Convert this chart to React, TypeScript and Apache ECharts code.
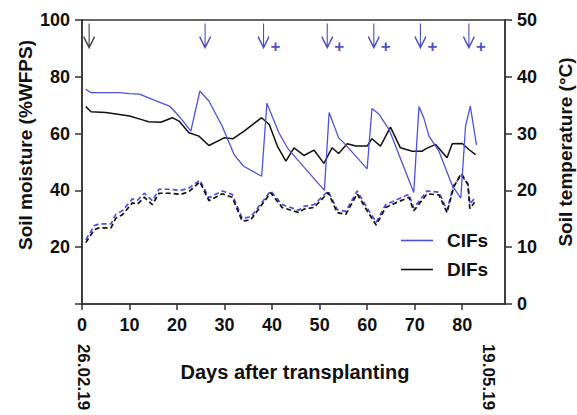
import React, { useEffect, useRef } from "react";
import * as echarts from "echarts";

// ---- Data ----
const cifMoistDays = [0.8, 1.9, 5, 7.8, 10, 12.1, 15.6, 18.4, 20.5, 22.9, 24.8, 26.7, 29.5, 32, 34, 37.8, 38.9, 41.4, 43.2, 45.6, 51, 52, 54, 55, 60, 61, 62.5, 64.6, 69.8, 70.9, 71.9, 73, 75.1, 77.9, 79.7, 80.7, 81.7, 83];
const cifMoist = [75.6, 74.4, 74.4, 74.4, 74.1, 73.9, 71.5, 69.7, 66.0, 60.9, 75.0, 71.5, 62.6, 52.6, 48.5, 45.0, 70.7, 60.4, 55.0, 50.3, 40.0, 67.4, 58.5, 56.9, 47.6, 68.8, 66.8, 61.5, 39.3, 69.5, 65.6, 59.1, 53.8, 41.7, 37.3, 62.6, 69.7, 56.0];

const difMoistDays = [0.8, 1.9, 5, 10, 12.4, 14, 16.6, 19, 20.4, 22.5, 24.6, 26.7, 29.9, 31.8, 34.1, 37.8, 39.4, 41.1, 42.9, 44.6, 46.7, 48.8, 50.9, 52.6, 54, 55.8, 57.6, 60, 61, 62.8, 64.9, 67, 69.5, 71.6, 72.3, 74.4, 76.8, 77.9, 80, 81.4, 82.8];
const difMoist = [69.5, 67.7, 67.4, 66.2, 65.0, 64.2, 64.0, 65.6, 64.4, 60.3, 59.1, 55.8, 58.5, 58.2, 60.9, 65.6, 63.2, 55.6, 50.3, 55.0, 52.3, 54.2, 49.5, 55.0, 53.0, 56.4, 55.6, 55.6, 58.2, 55.6, 62.3, 55.0, 53.8, 53.8, 54.6, 56.2, 51.5, 56.4, 56.5, 54.4, 52.6];

const tempDays = [0.8, 2.6, 3.6, 6.1, 7.1, 8.5, 10.6, 11.7, 13.1, 14.8, 16.2, 18.3, 20.8, 22.5, 24.8, 26.7, 29.5, 31.6, 33.7, 35.5, 39.7, 42.1, 45.6, 46.7, 48.8, 51.8, 53.7, 55.5, 57.9, 60, 61.9, 63.9, 66.3, 68.8, 69.8, 72.6, 75.1, 76.8, 78.2, 79.8, 81.2, 81.6, 82.6];
const cifTemp = [11.3, 13.8, 14.1, 14.1, 15.8, 16.4, 18.5, 18.3, 19.5, 18.2, 20.2, 20.2, 20.0, 20.4, 21.8, 18.7, 19.9, 19.3, 15.1, 15.3, 19.9, 17.5, 16.5, 17.2, 17.5, 19.9, 16.6, 16.3, 19.9, 16.9, 14.4, 17.5, 18.4, 19.3, 16.9, 19.9, 19.7, 16.5, 20.9, 22.6, 21.2, 17.6, 18.6];
const difTemp = [10.8, 13.1, 13.4, 13.4, 15.1, 15.7, 17.8, 17.6, 18.8, 17.5, 19.5, 19.5, 19.3, 19.8, 21.5, 18.2, 19.4, 18.8, 14.6, 14.8, 19.6, 17.0, 16.1, 16.7, 17.0, 19.6, 16.1, 15.8, 19.4, 16.4, 13.9, 17.0, 17.9, 18.8, 16.4, 19.4, 19.2, 16.1, 20.6, 23.0, 21.0, 16.8, 17.9];

// fertilization arrows (days) and their suffix text
const arrowDays = [1.5, 25.9, 38.2, 51.6, 61.4, 71.2, 81.4];
const arrowSuffix = ["", "", "+", "+", "+", "+", "+"];
const arrowLevel = 94.5;

const xTicks = [0, 10, 20, 30, 40, 50, 60, 70, 80];

const FONT = "'Liberation Sans', Arial, sans-serif";
const BLUE = "#5050e0";
const ARROW_BLUE = "#1e1eb8";
const AXIS = "#333333";
const LINE_ICON = "path://M0,0 L32,0 L32,1.6 L0,1.6 Z";

function zip(xs: number[], ys: number[]) {
  return xs.map((x, i) => [x, ys[i]]);
}

export default function App() {
  const ref = useRef<HTMLDivElement>(null);
  useEffect(() => {
    if (!ref.current) return;
    const chart = echarts.init(ref.current, null, { renderer: "svg" });
    const tickLabel = { fontFamily: FONT, fontWeight: "bold" as const, fontSize: 18, color: "#111" };
    const option: any = {
      animation: false,
      grid: { left: 82, right: 72, top: 20, bottom: 111, show: true, borderColor: AXIS, borderWidth: 1.5, backgroundColor: "transparent" },
      legend: {
        data: [
          { name: "CIFs", icon: LINE_ICON },
          { name: "DIFs", icon: LINE_ICON },
        ],
        orient: "vertical",
        left: 396,
        top: 226,
        itemWidth: 32,
        itemHeight: 20,
        itemGap: 10,
        symbolKeepAspect: true,
        textStyle: { fontFamily: FONT, fontWeight: "bold", fontSize: 19, color: "#111", padding: [0, 0, 0, 9] },
      },
      xAxis: {
        type: "value",
        min: 0,
        max: 89,
        interval: 10,
        splitLine: { show: false },
        axisLine: { show: true, lineStyle: { color: AXIS, width: 1.5 } },
        axisTick: { show: true, length: 6, customValues: xTicks, lineStyle: { color: AXIS, width: 1.5 } },
        axisLabel: { ...tickLabel, margin: 12, customValues: xTicks, formatter: (v: number) => (v <= 80 ? String(v) : "") },
      },
      yAxis: [
        {
          type: "value",
          min: 0,
          max: 100,
          interval: 20,
          position: "left",
          splitLine: { show: false },
          axisLine: { show: true, lineStyle: { color: AXIS, width: 1.5 } },
          axisTick: { show: true, length: 7, lineStyle: { color: AXIS, width: 1.5 } },
          axisLabel: { ...tickLabel, margin: 12, formatter: (v: number) => (v === 0 ? "" : String(v)) },
        },
        {
          type: "value",
          min: 0,
          max: 50,
          interval: 10,
          position: "right",
          splitLine: { show: false },
          axisLine: { show: true, lineStyle: { color: AXIS, width: 1.5 } },
          axisTick: { show: true, length: 7, lineStyle: { color: AXIS, width: 1.5 } },
          axisLabel: { ...tickLabel, margin: 12 },
        },
      ],
      series: [
        {
          name: "CIFs temperature",
          type: "line",
          yAxisIndex: 1,
          symbol: "none",
          data: zip(tempDays, cifTemp),
          lineStyle: { color: BLUE, width: 1.7, type: [5, 3] },
          itemStyle: { color: BLUE },
          z: 2,
        },
        {
          name: "DIFs temperature",
          type: "line",
          yAxisIndex: 1,
          symbol: "none",
          data: zip(tempDays, difTemp),
          lineStyle: { color: "#111", width: 1.7, type: [5, 3] },
          itemStyle: { color: "#111" },
          z: 3,
        },
        {
          name: "DIFs",
          type: "line",
          symbol: "none",
          data: zip(difMoistDays, difMoist),
          lineStyle: { color: "#111", width: 1.5 },
          itemStyle: { color: "#111" },
          z: 4,
        },
        {
          name: "CIFs",
          type: "line",
          symbol: "none",
          data: zip(cifMoistDays, cifMoist),
          lineStyle: { color: BLUE, width: 1.3 },
          itemStyle: { color: BLUE },
          z: 5,
        },
        {
          name: "arrows",
          type: "scatter",
          symbol: "path://M6,0 L6,24 M0.5,13 L6,24 L11.5,13",
          symbolSize: [11, 24],
          z: 6,
          data: arrowDays.map((d, i) => {
            const c = i === 0 ? "#111" : ARROW_BLUE;
            return {
              value: [d, arrowLevel],
              itemStyle: { color: "transparent", borderColor: c, borderWidth: 1.6 },
              label: {
                show: arrowSuffix[i] !== "",
                formatter: arrowSuffix[i],
                position: "inside",
                offset: [12, 11],
                color: c,
                fontFamily: FONT,
                fontWeight: "bold",
                fontSize: 17,
              },
            };
          }),
        },
      ],
      graphic: [
        { type: "text", x: 25, y: 145, rotation: Math.PI / 2, style: { text: "Soil moisture (%WFPS)", fill: "#111", font: `bold 19px ${FONT}`, textAlign: "center", textVerticalAlign: "middle" } },
        { type: "text", x: 565, y: 152, rotation: Math.PI / 2, style: { text: "Soil temperature (°C)", fill: "#111", font: `bold 19px ${FONT}`, textAlign: "center", textVerticalAlign: "middle" } },
        { type: "text", x: 295, y: 372, style: { text: "Days after transplanting", fill: "#111", font: `bold 20px ${FONT}`, textAlign: "center", textVerticalAlign: "middle" } },
        { type: "text", x: 83, y: 377, rotation: -Math.PI / 2, style: { text: "26.02.19", fill: "#111", font: `bold 17px ${FONT}`, textAlign: "center", textVerticalAlign: "middle" } },
        { type: "text", x: 488, y: 377, rotation: -Math.PI / 2, style: { text: "19.05.19", fill: "#111", font: `bold 17px ${FONT}`, textAlign: "center", textVerticalAlign: "middle" } },
      ],
    };
    chart.setOption(option);
    return () => chart.dispose();
  }, []);
  return <div ref={ref} style={{ position: "fixed", left: 0, top: 0, width: 577, height: 415, background: "#fff" }} />;
}
